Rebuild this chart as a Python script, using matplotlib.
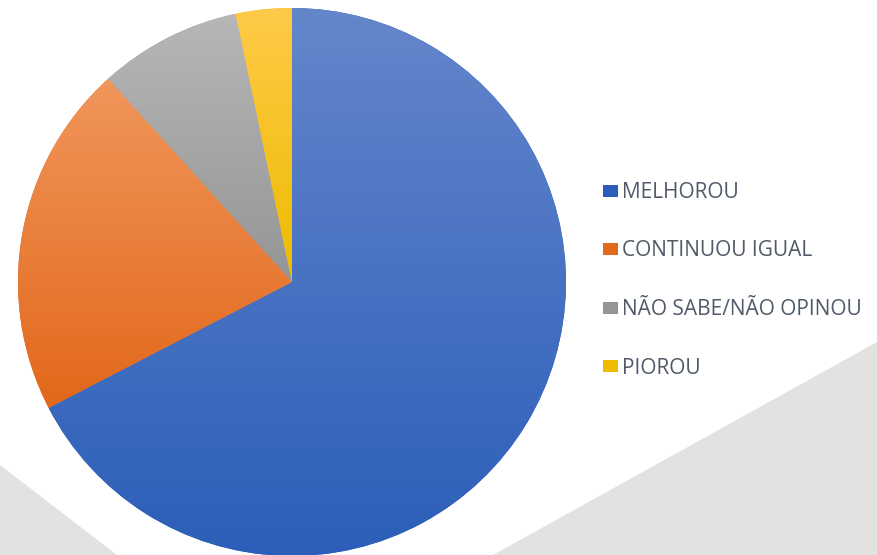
import numpy as np
import matplotlib.pyplot as plt
from matplotlib.colors import LinearSegmentedColormap

# dados (percentual)
categorias = ["MELHOROU", "CONTINUOU IGUAL", "NÃO SABE/NÃO OPINOU", "PIOROU"]
valores = [67.4, 20.9, 8.4, 3.3]

# cores (topo, base) de cada fatia - gradiente vertical
cores = [("#6486CB", "#2C5EB9"),
         ("#F1965C", "#E2681A"),
         ("#B7B7B7", "#959595"),
         ("#FFCA48", "#EEBB00")]

plt.rcParams['font.family'] = ['Open Sans', 'DejaVu Sans']

W, H = 877, 555
fig = plt.figure(figsize=(W / 100, H / 100), dpi=100)
ax = fig.add_axes([0, 0, 1, 1])

# fundo: faixas cinzas
ax.fill([W, W, 493], [H - 342, 0, 0], color="#E3E2E0", lw=0, zorder=0)
ax.fill([0, 0, 117], [H - 465, 0, 0], color="#E3E2E0", lw=0, zorder=0)

cx, cy, r = 292, H - 282, 274
wedges, _ = ax.pie(valores, startangle=90, counterclock=False,
                   center=(cx, cy), radius=r, frame=True,
                   colors=[c[1] for c in cores],
                   wedgeprops=dict(linewidth=0))

for w, (c_top, c_bot) in zip(wedges, cores):
    w.set_zorder(2)
    ys = w.get_path().vertices[:, 1]
    y0, y1 = ys.min(), ys.max()
    cmap = LinearSegmentedColormap.from_list("g", [c_bot, c_top])
    grad = np.linspace(0, 1, 256).reshape(-1, 1)
    im = ax.imshow(grad, cmap=cmap, origin='lower', aspect='auto',
                   extent=(cx - r - 2, cx + r + 2, y0, y1), zorder=3,
                   interpolation='bilinear')
    im.set_clip_path(w)

leg = fig.legend(wedges, categorias, loc='upper left',
                 bbox_to_anchor=(603 / W, 1 - 182 / H), frameon=False,
                 borderpad=0, borderaxespad=0,
                 fontsize=15, labelcolor="#505A68", handlelength=0.7,
                 handleheight=0.5, handletextpad=0.2, labelspacing=1.8)
for h, (c_top, c_bot) in zip(leg.legend_handles, cores):
    h.set_facecolor(c_bot)

ax.set_xlim(0, W)
ax.set_ylim(0, H)
ax.set_aspect('equal')
ax.axis('off')
fig.savefig("out.png", dpi=100)
